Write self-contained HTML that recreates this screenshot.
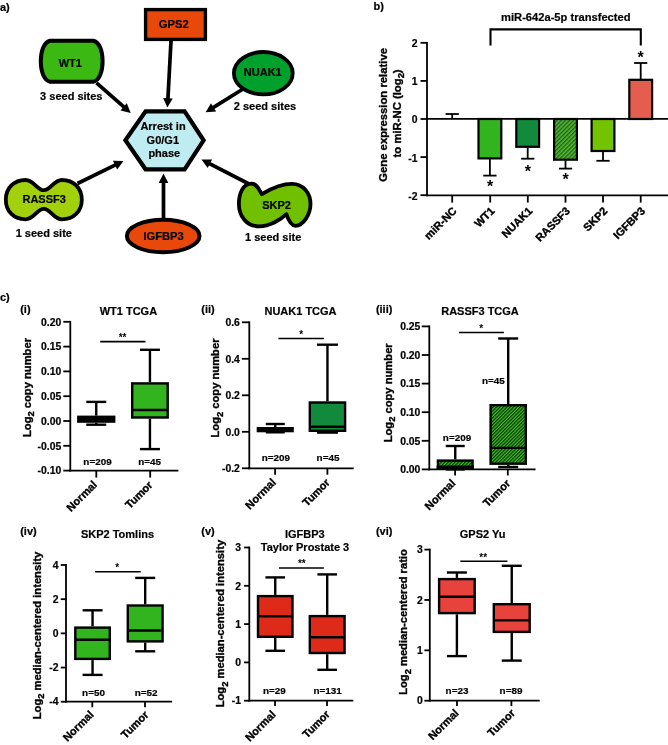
<!DOCTYPE html>
<html><head><meta charset="utf-8"><title>Figure</title>
<style>html,body{margin:0;padding:0;background:#fff}svg{display:block}text{font-family:"Liberation Sans", sans-serif;font-weight:bold;fill:#000;stroke:#000;stroke-width:0.2px}text.r{stroke-width:0.35px}</style></head><body>
<svg style="will-change:transform" width="668" height="745" viewBox="0 0 668 745" stroke="#000" fill="none" stroke-linecap="butt">
<defs><pattern id="hatch" width="2.4" height="2.4" patternUnits="userSpaceOnUse" patternTransform="rotate(-45)"><rect width="2.4" height="2.4" fill="#40C020" stroke="none"/><line x1="0" y1="0.6" x2="2.4" y2="0.6" stroke="#063206" stroke-width="1.2"/></pattern><pattern id="hatchB" width="2.9" height="2.9" patternUnits="userSpaceOnUse" patternTransform="rotate(-45)"><rect width="2.9" height="2.9" fill="#5CBB2A" stroke="none"/><line x1="0" y1="0.7" x2="2.9" y2="0.7" stroke="#1A6328" stroke-width="1.4"/></pattern></defs>
<rect width="668" height="745" fill="#fff" stroke="none"/>
<g id="panelA">
<line x1="96.5" y1="82.8" x2="124.4" y2="107.4" stroke-width="3.7"/>
<polygon points="130.7,113.0 120.5,110.4 126.8,103.2" fill="#000" stroke="none"/>
<line x1="171.0" y1="41.0" x2="167.9" y2="99.2" stroke-width="3.7"/>
<polygon points="167.4,107.6 163.1,98.0 172.7,98.5" fill="#000" stroke="none"/>
<line x1="243.0" y1="89.0" x2="212.7" y2="107.9" stroke-width="3.7"/>
<polygon points="205.6,112.3 211.0,103.3 216.1,111.4" fill="#000" stroke="none"/>
<line x1="77.5" y1="183.5" x2="116.0" y2="164.7" stroke-width="3.7"/>
<polygon points="123.5,161.0 117.2,169.4 112.9,160.8" fill="#000" stroke="none"/>
<line x1="163.5" y1="222.0" x2="163.5" y2="182.0" stroke-width="3.7"/>
<polygon points="163.5,173.6 168.3,183.0 158.7,183.0" fill="#000" stroke="none"/>
<line x1="252.0" y1="185.5" x2="209.0" y2="163.3" stroke-width="3.7"/>
<polygon points="201.5,159.5 212.1,159.5 207.7,168.1" fill="#000" stroke="none"/>
<path d="M50,40.8 H93.4 C99.5,42.5 102.6,51 102.6,61.25 C102.6,71.5 99.5,80 93.4,81.7 H50 C43.9,80 40.8,71.5 40.8,61.25 C40.8,51 43.9,42.5 50,40.8 Z" fill="#3CB812" stroke-width="4" stroke-linejoin="round"/>
<rect x="145.6" y="9.6" width="59.8" height="29.8" fill="#E8480A" stroke-width="3.4"/>
<ellipse cx="263.3" cy="73.2" rx="29.4" ry="21.2" fill="#00A02D" stroke-width="3.8"/>
<polygon points="125.4,140.3 145.6,111.3 184.6,111.3 203.6,140.3 184.6,169.3 145.6,169.3" fill="#BEECF0" stroke-width="4.2" stroke-linejoin="miter"/>
<ellipse cx="163.2" cy="236" rx="36.3" ry="16.2" fill="#E8480A" stroke-width="4"/>
<path d="M5.8,199.7 C5.8,188 14,180 25.5,180 C34,180 37,190.2 43.8,190.2 C50.5,190.2 53.5,180 62,180 C73.5,180 81.8,188 81.8,199.7 C81.8,211.5 73.5,219.3 62,219.3 C53.5,219.3 50.5,208.8 43.8,208.8 C37,208.8 34,219.3 25.5,219.3 C14,219.3 5.8,211.5 5.8,199.7 Z" fill="#A2D00C" stroke-width="3.8" stroke-linejoin="round"/>
<path d="M238.9,204 C238.9,193.5 243,183.6 251.5,183.6 C257,183.6 258.5,189 261.8,194.2 C268,190.5 278,183.8 292,183.8 C303,183.8 310.5,193 310.5,204 C310.5,214.5 303,225.8 295.5,225.8 C290.5,225.8 288,219 286.4,214.2 C281,219.5 270,226.3 259,226.3 C246,226.3 238.9,215.5 238.9,204 Z" fill="#70C000" stroke-width="3.8" stroke-linejoin="round"/>
</g>
<g stroke="none">
<text x="0" y="10.5" font-size="11" text-anchor="start">a)</text>
<text x="70.3" y="66.8" font-size="11" text-anchor="middle">WT1</text>
<text x="173.8" y="28" font-size="11.2" text-anchor="middle">GPS2</text>
<text x="262.8" y="76.2" font-size="11" text-anchor="middle">NUAK1</text>
<text x="163" y="130.4" font-size="11" text-anchor="middle">Arrest in</text>
<text x="162.8" y="144" font-size="11" text-anchor="middle">G0/G1</text>
<text x="164.3" y="157" font-size="11" text-anchor="middle">phase</text>
<text x="163.6" y="240" font-size="11.2" text-anchor="middle">IGFBP3</text>
<text x="44.2" y="202.6" font-size="11" text-anchor="middle">RASSF3</text>
<text x="276.5" y="208.7" font-size="11" text-anchor="middle">SKP2</text>
<text x="71.3" y="99.5" font-size="11" text-anchor="middle">3 seed sites</text>
<text x="265" y="110" font-size="11" text-anchor="middle">2 seed sites</text>
<text x="43.8" y="236.5" font-size="11" text-anchor="middle">1 seed site</text>
<text x="273.2" y="240.6" font-size="11" text-anchor="middle">1 seed site</text>
</g>
<g id="panelB">
<line x1="427" y1="118.9" x2="668" y2="118.9" stroke-width="1.7"/>
<rect x="478.5" y="119.0" width="22.8" height="39.4" fill="#32B41E" stroke-width="2.2"/>
<rect x="516.3" y="119.0" width="22.8" height="27.8" fill="#128A3C" stroke-width="2.2"/>
<rect x="554.1" y="119.0" width="22.8" height="40.7" fill="url(#hatchB)" stroke-width="2.2"/>
<rect x="591.6" y="119.0" width="22.8" height="32.0" fill="#73C300" stroke-width="2.2"/>
<rect x="629.3" y="79.8" width="22.8" height="39.2" fill="#E45E50" stroke-width="2.2"/>
<line x1="452.2" y1="119.0" x2="452.2" y2="114" stroke-width="1.8"/>
<line x1="445.59999999999997" y1="114" x2="458.8" y2="114" stroke-width="1.8"/>
<line x1="489.9" y1="159.005" x2="489.9" y2="175.6" stroke-width="1.8"/>
<line x1="483.29999999999995" y1="175.6" x2="496.5" y2="175.6" stroke-width="1.8"/>
<line x1="527.7" y1="147.575" x2="527.7" y2="158.7" stroke-width="1.8"/>
<line x1="521.1" y1="158.7" x2="534.3000000000001" y2="158.7" stroke-width="1.8"/>
<line x1="565.5" y1="160.529" x2="565.5" y2="168.6" stroke-width="1.8"/>
<line x1="558.9" y1="168.6" x2="572.1" y2="168.6" stroke-width="1.8"/>
<line x1="603" y1="151.004" x2="603" y2="160.8" stroke-width="1.8"/>
<line x1="596.4" y1="160.8" x2="609.6" y2="160.8" stroke-width="1.8"/>
<line x1="640.7" y1="79.1855" x2="640.7" y2="63" stroke-width="1.8"/>
<line x1="634.1" y1="63" x2="647.3000000000001" y2="63" stroke-width="1.8"/>
<line x1="427" y1="42.1" x2="427" y2="196.3" stroke-width="1.8"/>
<line x1="426.1" y1="195.4" x2="668" y2="195.4" stroke-width="1.8"/>
<line x1="420.5" y1="42.8" x2="427" y2="42.8" stroke-width="1.8"/>
<line x1="420.5" y1="80.9" x2="427" y2="80.9" stroke-width="1.8"/>
<line x1="420.5" y1="119.0" x2="427" y2="119.0" stroke-width="1.8"/>
<line x1="420.5" y1="157.1" x2="427" y2="157.1" stroke-width="1.8"/>
<line x1="420.5" y1="195.2" x2="427" y2="195.2" stroke-width="1.8"/>
<line x1="452.2" y1="195.4" x2="452.2" y2="202.6" stroke-width="1.8"/>
<line x1="490.2" y1="195.4" x2="490.2" y2="202.6" stroke-width="1.8"/>
<line x1="527.8" y1="195.4" x2="527.8" y2="202.6" stroke-width="1.8"/>
<line x1="565.5" y1="195.4" x2="565.5" y2="202.6" stroke-width="1.8"/>
<line x1="603" y1="195.4" x2="603" y2="202.6" stroke-width="1.8"/>
<line x1="640.7" y1="195.4" x2="640.7" y2="202.6" stroke-width="1.8"/>
<polyline points="490.5,45.5 490.5,29.4 640.8,29.4 640.8,45.5" stroke-width="2.1" stroke-linejoin="miter"/>
</g>
<g stroke="none">
<text x="373.5" y="10" font-size="11" text-anchor="start">b)</text>
<text x="565.8" y="20.8" font-size="11.15" text-anchor="middle">miR-642a-5p transfected</text>
<text x="417.5" y="47.199999999999996" font-size="10.4" text-anchor="end">2</text>
<text x="417.5" y="85.30000000000001" font-size="10.4" text-anchor="end">1</text>
<text x="417.5" y="123.4" font-size="10.4" text-anchor="end">0</text>
<text x="417.5" y="161.5" font-size="10.4" text-anchor="end">-1</text>
<text x="417.5" y="199.6" font-size="10.4" text-anchor="end">-2</text>
<text class="r" x="387.2" y="114.9" font-size="11.3" text-anchor="middle" transform="rotate(-90 387.2 114.9)">Gene expression relative</text>
<text class="r" x="401" y="113.4" font-size="11.3" text-anchor="middle" transform="rotate(-90 401 113.4)">to miR-NC (log<tspan font-size="9.3" dy="3.2">2</tspan><tspan dy="-3.2">)</tspan></text>
<text x="457.4" y="211.6" font-size="11" text-anchor="end" class="r" transform="rotate(-45 457.4 211.6)">miR-NC</text>
<text x="495.4" y="211.6" font-size="11" text-anchor="end" class="r" transform="rotate(-45 495.4 211.6)">WT1</text>
<text x="533.0" y="211.6" font-size="11" text-anchor="end" class="r" transform="rotate(-45 533.0 211.6)">NUAK1</text>
<text x="570.7" y="211.6" font-size="11" text-anchor="end" class="r" transform="rotate(-45 570.7 211.6)">RASSF3</text>
<text x="608.2" y="211.6" font-size="11" text-anchor="end" class="r" transform="rotate(-45 608.2 211.6)">SKP2</text>
<text x="645.9000000000001" y="211.6" font-size="11" text-anchor="end" class="r" transform="rotate(-45 645.9000000000001 211.6)">IGFBP3</text>
<text x="490.2" y="191.6" font-size="16" text-anchor="middle" style="stroke-width:0">*</text>
<text x="527.8" y="176.6" font-size="16" text-anchor="middle" style="stroke-width:0">*</text>
<text x="565.5" y="185.1" font-size="16" text-anchor="middle" style="stroke-width:0">*</text>
<text x="640.5" y="62.8" font-size="16" text-anchor="middle" style="stroke-width:0">*</text>
</g>
<g id="panelC">
<line x1="70.3" y1="320.90000000000003" x2="70.3" y2="471.5" stroke-width="1.8"/>
<line x1="69.39999999999999" y1="470.6" x2="178.4" y2="470.6" stroke-width="1.8"/>
<line x1="63.3" y1="321.8" x2="70.3" y2="321.8" stroke-width="1.8"/>
<text x="61.3" y="325.5" font-size="10.4" text-anchor="end">0.20</text>
<line x1="63.3" y1="346.6" x2="70.3" y2="346.6" stroke-width="1.8"/>
<text x="61.3" y="350.3" font-size="10.4" text-anchor="end">0.15</text>
<line x1="63.3" y1="371.40000000000003" x2="70.3" y2="371.40000000000003" stroke-width="1.8"/>
<text x="61.3" y="375.1" font-size="10.4" text-anchor="end">0.10</text>
<line x1="63.3" y1="396.20000000000005" x2="70.3" y2="396.20000000000005" stroke-width="1.8"/>
<text x="61.3" y="399.90000000000003" font-size="10.4" text-anchor="end">0.05</text>
<line x1="63.3" y1="421.0" x2="70.3" y2="421.0" stroke-width="1.8"/>
<text x="61.3" y="424.7" font-size="10.4" text-anchor="end">0.00</text>
<line x1="63.3" y1="445.8" x2="70.3" y2="445.8" stroke-width="1.8"/>
<text x="61.3" y="449.5" font-size="10.4" text-anchor="end">-0.05</text>
<line x1="63.3" y1="470.6" x2="70.3" y2="470.6" stroke-width="1.8"/>
<text x="61.3" y="474.3" font-size="10.4" text-anchor="end">-0.10</text>
<line x1="96.3" y1="470.6" x2="96.3" y2="477.6" stroke-width="1.8"/>
<line x1="150.2" y1="470.6" x2="150.2" y2="477.6" stroke-width="1.8"/>
<line x1="96.25" y1="401.9" x2="96.25" y2="415.6" stroke-width="2.4"/>
<line x1="86.25" y1="401.9" x2="106.25" y2="401.9" stroke-width="2.4"/>
<line x1="96.25" y1="422.8" x2="96.25" y2="424.7" stroke-width="2.4"/>
<line x1="86.25" y1="424.7" x2="106.25" y2="424.7" stroke-width="2.4"/>
<rect x="78.3" y="416.8" width="35.90000000000001" height="4.799999999999988" fill="#222" stroke-width="2.4"/>
<line x1="78.3" y1="419.2" x2="114.2" y2="419.2" stroke-width="2.4"/>
<line x1="149.95" y1="349.8" x2="149.95" y2="382.2" stroke-width="2.4"/>
<line x1="139.95" y1="349.8" x2="159.95" y2="349.8" stroke-width="2.4"/>
<line x1="149.95" y1="418.7" x2="149.95" y2="449.1" stroke-width="2.4"/>
<line x1="139.95" y1="449.1" x2="159.95" y2="449.1" stroke-width="2.4"/>
<rect x="132.2" y="383.4" width="35.50000000000001" height="34.1" fill="#32B41E" stroke-width="2.4"/>
<line x1="132.2" y1="410" x2="167.70000000000002" y2="410" stroke-width="2.4"/>
<line x1="100.2" y1="341.7" x2="145.5" y2="341.7" stroke-width="1.7"/>
<line x1="249.3" y1="321.40000000000003" x2="249.3" y2="469.2" stroke-width="1.8"/>
<line x1="248.4" y1="468.3" x2="353.7" y2="468.3" stroke-width="1.8"/>
<line x1="241.9" y1="322.3" x2="249.3" y2="322.3" stroke-width="1.8"/>
<text x="239.9" y="326.0" font-size="10.4" text-anchor="end">0.6</text>
<line x1="241.9" y1="358.8" x2="249.3" y2="358.8" stroke-width="1.8"/>
<text x="239.9" y="362.5" font-size="10.4" text-anchor="end">0.4</text>
<line x1="241.9" y1="395.3" x2="249.3" y2="395.3" stroke-width="1.8"/>
<text x="239.9" y="399.0" font-size="10.4" text-anchor="end">0.2</text>
<line x1="241.9" y1="431.8" x2="249.3" y2="431.8" stroke-width="1.8"/>
<text x="239.9" y="435.5" font-size="10.4" text-anchor="end">0.0</text>
<line x1="241.9" y1="468.3" x2="249.3" y2="468.3" stroke-width="1.8"/>
<text x="239.9" y="472.0" font-size="10.4" text-anchor="end">-0.2</text>
<line x1="275.1" y1="468.3" x2="275.1" y2="474.7" stroke-width="1.8"/>
<line x1="327.4" y1="468.3" x2="327.4" y2="474.7" stroke-width="1.8"/>
<line x1="275.25" y1="424" x2="275.25" y2="427" stroke-width="2.4"/>
<line x1="265.75" y1="424" x2="284.75" y2="424" stroke-width="2.4"/>
<line x1="275.25" y1="432.3" x2="275.25" y2="432.3" stroke-width="2.4"/>
<line x1="265.75" y1="432.3" x2="284.75" y2="432.3" stroke-width="2.4"/>
<rect x="257.9" y="428.2" width="34.700000000000024" height="2.9000000000000115" fill="#222" stroke-width="2.4"/>
<line x1="257.9" y1="430" x2="292.6" y2="430" stroke-width="2.4"/>
<line x1="327.45000000000005" y1="344.7" x2="327.45000000000005" y2="401.3" stroke-width="2.4"/>
<line x1="316.95000000000005" y1="344.7" x2="337.95000000000005" y2="344.7" stroke-width="2.4"/>
<line x1="327.45000000000005" y1="432" x2="327.45000000000005" y2="432.6" stroke-width="2.4"/>
<line x1="316.95000000000005" y1="432.6" x2="337.95000000000005" y2="432.6" stroke-width="2.4"/>
<rect x="309.8" y="402.5" width="35.29999999999999" height="28.29999999999999" fill="#128A3C" stroke-width="2.4"/>
<line x1="309.8" y1="426.7" x2="345.1" y2="426.7" stroke-width="2.4"/>
<line x1="278.4" y1="338.5" x2="323.9" y2="338.5" stroke-width="1.5"/>
<line x1="429.3" y1="325.5" x2="429.3" y2="470.29999999999995" stroke-width="1.8"/>
<line x1="428.40000000000003" y1="469.4" x2="535.6" y2="469.4" stroke-width="1.8"/>
<line x1="421.8" y1="326.4" x2="429.3" y2="326.4" stroke-width="1.8"/>
<text x="420.40000000000003" y="330.09999999999997" font-size="10.4" text-anchor="end">0.25</text>
<line x1="421.8" y1="355.0" x2="429.3" y2="355.0" stroke-width="1.8"/>
<text x="420.40000000000003" y="358.7" font-size="10.4" text-anchor="end">0.20</text>
<line x1="421.8" y1="383.59999999999997" x2="429.3" y2="383.59999999999997" stroke-width="1.8"/>
<text x="420.40000000000003" y="387.29999999999995" font-size="10.4" text-anchor="end">0.15</text>
<line x1="421.8" y1="412.2" x2="429.3" y2="412.2" stroke-width="1.8"/>
<text x="420.40000000000003" y="415.9" font-size="10.4" text-anchor="end">0.10</text>
<line x1="421.8" y1="440.79999999999995" x2="429.3" y2="440.79999999999995" stroke-width="1.8"/>
<text x="420.40000000000003" y="444.49999999999994" font-size="10.4" text-anchor="end">0.05</text>
<line x1="421.8" y1="469.4" x2="429.3" y2="469.4" stroke-width="1.8"/>
<text x="420.40000000000003" y="473.09999999999997" font-size="10.4" text-anchor="end">0.00</text>
<line x1="455.1" y1="469.4" x2="455.1" y2="475.4" stroke-width="1.8"/>
<line x1="507.8" y1="469.4" x2="507.8" y2="475.4" stroke-width="1.8"/>
<line x1="455.25" y1="446" x2="455.25" y2="459.4" stroke-width="2.4"/>
<line x1="445.75" y1="446" x2="464.75" y2="446" stroke-width="2.4"/>
<line x1="455.25" y1="469.5" x2="455.25" y2="469.4" stroke-width="2.4"/>
<line x1="445.75" y1="469.4" x2="464.75" y2="469.4" stroke-width="2.4"/>
<rect x="437.9" y="460.59999999999997" width="34.700000000000024" height="7.700000000000022" fill="url(#hatch)" stroke-width="2.4"/>
<line x1="437.9" y1="467.5" x2="472.6" y2="467.5" stroke-width="2.4"/>
<rect x="436.7" y="465.5" width="37.1" height="4" fill="#000" stroke="none"/>
<line x1="508.2" y1="338.5" x2="508.2" y2="404" stroke-width="2.4"/>
<line x1="498.2" y1="338.5" x2="518.2" y2="338.5" stroke-width="2.4"/>
<line x1="508.2" y1="464.9" x2="508.2" y2="467" stroke-width="2.4"/>
<line x1="498.2" y1="467" x2="518.2" y2="467" stroke-width="2.4"/>
<rect x="490.59999999999997" y="405.2" width="35.200000000000024" height="58.49999999999998" fill="url(#hatch)" stroke-width="2.4"/>
<line x1="490.59999999999997" y1="447.9" x2="525.8" y2="447.9" stroke-width="2.4"/>
<line x1="458.9" y1="332.6" x2="503.9" y2="332.6" stroke-width="1.5"/>
<line x1="66" y1="564.1" x2="66" y2="702.6" stroke-width="1.8"/>
<line x1="65.1" y1="701.7" x2="172.1" y2="701.7" stroke-width="1.8"/>
<line x1="60.8" y1="565.0" x2="66" y2="565.0" stroke-width="1.8"/>
<text x="58.599999999999994" y="568.7" font-size="10.4" text-anchor="end">4</text>
<line x1="60.8" y1="599.18" x2="66" y2="599.18" stroke-width="1.8"/>
<text x="58.599999999999994" y="602.88" font-size="10.4" text-anchor="end">2</text>
<line x1="60.8" y1="633.36" x2="66" y2="633.36" stroke-width="1.8"/>
<text x="58.599999999999994" y="637.0600000000001" font-size="10.4" text-anchor="end">0</text>
<line x1="60.8" y1="667.54" x2="66" y2="667.54" stroke-width="1.8"/>
<text x="58.599999999999994" y="671.24" font-size="10.4" text-anchor="end">-2</text>
<line x1="60.8" y1="701.72" x2="66" y2="701.72" stroke-width="1.8"/>
<text x="58.599999999999994" y="705.4200000000001" font-size="10.4" text-anchor="end">-4</text>
<line x1="92.3" y1="701.7" x2="92.3" y2="707.3000000000001" stroke-width="1.8"/>
<line x1="145" y1="701.7" x2="145" y2="707.3000000000001" stroke-width="1.8"/>
<line x1="92.55" y1="610.3" x2="92.55" y2="626.4" stroke-width="2.4"/>
<line x1="82.55" y1="610.3" x2="102.55" y2="610.3" stroke-width="2.4"/>
<line x1="92.55" y1="660.1" x2="92.55" y2="674.9" stroke-width="2.4"/>
<line x1="82.55" y1="674.9" x2="102.55" y2="674.9" stroke-width="2.4"/>
<rect x="75.3" y="627.6" width="34.50000000000001" height="31.300000000000047" fill="#32B41E" stroke-width="2.4"/>
<line x1="75.3" y1="639.8" x2="109.8" y2="639.8" stroke-width="2.4"/>
<line x1="145.2" y1="577.9" x2="145.2" y2="604.3" stroke-width="2.4"/>
<line x1="135.2" y1="577.9" x2="155.2" y2="577.9" stroke-width="2.4"/>
<line x1="145.2" y1="642.6" x2="145.2" y2="651.3" stroke-width="2.4"/>
<line x1="135.2" y1="651.3" x2="155.2" y2="651.3" stroke-width="2.4"/>
<rect x="127.8" y="605.5" width="34.80000000000002" height="35.90000000000007" fill="#32B41E" stroke-width="2.4"/>
<line x1="127.8" y1="630.5" x2="162.60000000000002" y2="630.5" stroke-width="2.4"/>
<line x1="95.1" y1="571.7" x2="140.7" y2="571.7" stroke-width="1.5"/>
<line x1="249.3" y1="546.6" x2="249.3" y2="701.6" stroke-width="1.8"/>
<line x1="248.4" y1="700.7" x2="353.3" y2="700.7" stroke-width="1.8"/>
<line x1="244.10000000000002" y1="547.5" x2="249.3" y2="547.5" stroke-width="1.8"/>
<text x="241.10000000000002" y="551.2" font-size="10.4" text-anchor="end">3</text>
<line x1="244.10000000000002" y1="585.8" x2="249.3" y2="585.8" stroke-width="1.8"/>
<text x="241.10000000000002" y="589.5" font-size="10.4" text-anchor="end">2</text>
<line x1="244.10000000000002" y1="624.1" x2="249.3" y2="624.1" stroke-width="1.8"/>
<text x="241.10000000000002" y="627.8000000000001" font-size="10.4" text-anchor="end">1</text>
<line x1="244.10000000000002" y1="662.4" x2="249.3" y2="662.4" stroke-width="1.8"/>
<text x="241.10000000000002" y="666.1" font-size="10.4" text-anchor="end">0</text>
<line x1="244.10000000000002" y1="700.7" x2="249.3" y2="700.7" stroke-width="1.8"/>
<text x="241.10000000000002" y="704.4000000000001" font-size="10.4" text-anchor="end">-1</text>
<line x1="275" y1="700.7" x2="275" y2="706.1" stroke-width="1.8"/>
<line x1="327" y1="700.7" x2="327" y2="706.1" stroke-width="1.8"/>
<line x1="275.25" y1="577.4" x2="275.25" y2="594.9" stroke-width="2.4"/>
<line x1="265.45" y1="577.4" x2="285.05" y2="577.4" stroke-width="2.4"/>
<line x1="275.25" y1="638" x2="275.25" y2="650.8" stroke-width="2.4"/>
<line x1="265.45" y1="650.8" x2="285.05" y2="650.8" stroke-width="2.4"/>
<rect x="258.0" y="596.1" width="34.49999999999998" height="40.700000000000024" fill="#DE2A18" stroke-width="2.4"/>
<line x1="258.0" y1="616.2" x2="292.5" y2="616.2" stroke-width="2.4"/>
<line x1="327.20000000000005" y1="574.4" x2="327.20000000000005" y2="614.9" stroke-width="2.4"/>
<line x1="317.40000000000003" y1="574.4" x2="337.00000000000006" y2="574.4" stroke-width="2.4"/>
<line x1="327.20000000000005" y1="654.2" x2="327.20000000000005" y2="669.8" stroke-width="2.4"/>
<line x1="317.40000000000003" y1="669.8" x2="337.00000000000006" y2="669.8" stroke-width="2.4"/>
<rect x="309.8" y="616.1" width="34.79999999999999" height="36.90000000000007" fill="#DE2A18" stroke-width="2.4"/>
<line x1="309.8" y1="637.2" x2="344.6" y2="637.2" stroke-width="2.4"/>
<line x1="278.9" y1="568" x2="323.9" y2="568" stroke-width="1.5"/>
<line x1="429.8" y1="548.7" x2="429.8" y2="701.6" stroke-width="1.8"/>
<line x1="428.90000000000003" y1="700.7" x2="539.7" y2="700.7" stroke-width="1.8"/>
<line x1="424.40000000000003" y1="549.6" x2="429.8" y2="549.6" stroke-width="1.8"/>
<text x="422.70000000000005" y="553.3000000000001" font-size="10.4" text-anchor="end">3</text>
<line x1="424.40000000000003" y1="599.97" x2="429.8" y2="599.97" stroke-width="1.8"/>
<text x="422.70000000000005" y="603.6700000000001" font-size="10.4" text-anchor="end">2</text>
<line x1="424.40000000000003" y1="650.34" x2="429.8" y2="650.34" stroke-width="1.8"/>
<text x="422.70000000000005" y="654.0400000000001" font-size="10.4" text-anchor="end">1</text>
<line x1="424.40000000000003" y1="700.71" x2="429.8" y2="700.71" stroke-width="1.8"/>
<text x="422.70000000000005" y="704.4100000000001" font-size="10.4" text-anchor="end">0</text>
<line x1="457" y1="700.7" x2="457" y2="706.1" stroke-width="1.8"/>
<line x1="511.4" y1="700.7" x2="511.4" y2="706.1" stroke-width="1.8"/>
<line x1="456.9" y1="572.5" x2="456.9" y2="577.9" stroke-width="2.4"/>
<line x1="446.9" y1="572.5" x2="466.9" y2="572.5" stroke-width="2.4"/>
<line x1="456.9" y1="614.3" x2="456.9" y2="656.1" stroke-width="2.4"/>
<line x1="446.9" y1="656.1" x2="466.9" y2="656.1" stroke-width="2.4"/>
<rect x="439.09999999999997" y="579.1" width="35.6" height="33.99999999999998" fill="#E8423C" stroke-width="2.4"/>
<line x1="439.09999999999997" y1="596.8" x2="474.7" y2="596.8" stroke-width="2.4"/>
<line x1="511.75" y1="565.8" x2="511.75" y2="603" stroke-width="2.4"/>
<line x1="501.75" y1="565.8" x2="521.75" y2="565.8" stroke-width="2.4"/>
<line x1="511.75" y1="633.1" x2="511.75" y2="660.6" stroke-width="2.4"/>
<line x1="501.75" y1="660.6" x2="521.75" y2="660.6" stroke-width="2.4"/>
<rect x="493.8" y="604.2" width="35.899999999999956" height="27.700000000000024" fill="#E8423C" stroke-width="2.4"/>
<line x1="493.8" y1="620.4" x2="529.6999999999999" y2="620.4" stroke-width="2.4"/>
<line x1="460.3" y1="561.2" x2="507.4" y2="561.2" stroke-width="1.5"/>
</g>
<g stroke="none">
<text x="0" y="301" font-size="11" text-anchor="start">c)</text>
<text x="20.2" y="313" font-size="11" text-anchor="start">(i)</text>
<text x="128.4" y="314.8" font-size="11" text-anchor="middle">WT1 TCGA</text>
<text x="201.3" y="313" font-size="11" text-anchor="start">(ii)</text>
<text x="300.5" y="314.8" font-size="11" text-anchor="middle">NUAK1 TCGA</text>
<text x="375.9" y="313" font-size="11" text-anchor="start">(iii)</text>
<text x="480" y="314.8" font-size="11" text-anchor="middle">RASSF3 TCGA</text>
<text x="20.2" y="534.8" font-size="11" text-anchor="start">(iv)</text>
<text x="117.5" y="537.5" font-size="11" text-anchor="middle">SKP2 Tomlins</text>
<text x="201.3" y="534.8" font-size="11" text-anchor="start">(v)</text>
<text x="304.8" y="537.5" font-size="11" text-anchor="middle">IGFBP3</text>
<text x="305" y="551" font-size="11" text-anchor="middle">Taylor Prostate 3</text>
<text x="375.9" y="534.8" font-size="11" text-anchor="start">(vi)</text>
<text x="482.6" y="537.5" font-size="11" text-anchor="middle">GPS2 Yu</text>
<text class="r" x="30.8" y="387.5" font-size="11.2" text-anchor="middle" transform="rotate(-90 30.8 387.5)">Log<tspan font-size="9.3" dy="3.6">2</tspan><tspan dy="-3.6"> </tspan>copy number</text>
<text class="r" x="219" y="388" font-size="11.2" text-anchor="middle" transform="rotate(-90 219 388)">Log<tspan font-size="9.3" dy="3.6">2</tspan><tspan dy="-3.6"> </tspan>copy number</text>
<text class="r" x="391.6" y="392.8" font-size="11.2" text-anchor="middle" transform="rotate(-90 391.6 392.8)">Log<tspan font-size="9.3" dy="3.6">2</tspan><tspan dy="-3.6"> </tspan>copy number</text>
<text class="r" x="40.7" y="635.5" font-size="11.2" text-anchor="middle" transform="rotate(-90 40.7 635.5)">Log<tspan font-size="9.3" dy="3.6">2</tspan><tspan dy="-3.6"> </tspan>median-centered intensity</text>
<text class="r" x="224.4" y="623.6" font-size="11.2" text-anchor="middle" transform="rotate(-90 224.4 623.6)">Log<tspan font-size="9.3" dy="3.6">2</tspan><tspan dy="-3.6"> </tspan>median-centered intensity</text>
<text class="r" x="407.2" y="622" font-size="11.2" text-anchor="middle" transform="rotate(-90 407.2 622)">Log<tspan font-size="9.3" dy="3.6">2</tspan><tspan dy="-3.6"> </tspan>median-centered ratio</text>
<text x="97.5" y="465.09999999999997" font-size="9.9" text-anchor="middle">n=209</text>
<text x="149.7" y="465.09999999999997" font-size="9.9" text-anchor="middle">n=45</text>
<text x="275.9" y="461.4" font-size="9.9" text-anchor="middle">n=209</text>
<text x="328" y="461.4" font-size="9.9" text-anchor="middle">n=45</text>
<text x="457" y="440.59999999999997" font-size="9.9" text-anchor="middle">n=209</text>
<text x="493.4" y="384.2" font-size="9.9" text-anchor="middle">n=45</text>
<text x="93.5" y="696.1" font-size="9.9" text-anchor="middle">n=50</text>
<text x="146.2" y="696.1" font-size="9.9" text-anchor="middle">n=52</text>
<text x="274.3" y="694.4" font-size="9.9" text-anchor="middle">n=29</text>
<text x="327.7" y="694.4" font-size="9.9" text-anchor="middle">n=131</text>
<text x="457" y="694.0" font-size="9.9" text-anchor="middle">n=23</text>
<text x="511" y="694.0" font-size="9.9" text-anchor="middle">n=89</text>
<text x="97.8" y="485.40000000000003" font-size="11" text-anchor="end" class="r" transform="rotate(-45 97.8 485.40000000000003)">Normal</text>
<text x="276.6" y="483.1" font-size="11" text-anchor="end" class="r" transform="rotate(-45 276.6 483.1)">Normal</text>
<text x="456.1" y="483.9" font-size="11" text-anchor="end" class="r" transform="rotate(-45 456.1 483.9)">Normal</text>
<text x="94.3" y="715.3000000000001" font-size="11" text-anchor="end" class="r" transform="rotate(-45 94.3 715.3000000000001)">Normal</text>
<text x="276.5" y="715.2" font-size="11" text-anchor="end" class="r" transform="rotate(-45 276.5 715.2)">Normal</text>
<text x="459.5" y="713.8000000000001" font-size="11" text-anchor="end" class="r" transform="rotate(-45 459.5 713.8000000000001)">Normal</text>
<text x="153.39999999999998" y="485.6" font-size="11" text-anchor="end" class="r" transform="rotate(-45 153.39999999999998 485.6)">Tumor</text>
<text x="330.59999999999997" y="483.3" font-size="11" text-anchor="end" class="r" transform="rotate(-45 330.59999999999997 483.3)">Tumor</text>
<text x="511.0" y="484.0" font-size="11" text-anchor="end" class="r" transform="rotate(-45 511.0 484.0)">Tumor</text>
<text x="149.2" y="715.5" font-size="11" text-anchor="end" class="r" transform="rotate(-45 149.2 715.5)">Tumor</text>
<text x="330.6" y="715.0" font-size="11" text-anchor="end" class="r" transform="rotate(-45 330.6 715.0)">Tumor</text>
<text x="515.6999999999999" y="713.7" font-size="11" text-anchor="end" class="r" transform="rotate(-45 515.6999999999999 713.7)">Tumor</text>
<text x="122.6" y="340.5" font-size="10" text-anchor="middle" style="stroke-width:0">**</text>
<text x="301.3" y="338" font-size="10" text-anchor="middle" style="stroke-width:0">*</text>
<text x="481.3" y="332" font-size="10" text-anchor="middle" style="stroke-width:0">*</text>
<text x="117.2" y="571" font-size="10" text-anchor="middle" style="stroke-width:0">*</text>
<text x="301.8" y="567.3" font-size="10" text-anchor="middle" style="stroke-width:0">**</text>
<text x="483.2" y="560.5" font-size="10" text-anchor="middle" style="stroke-width:0">**</text>
</g>
</svg></body></html>
